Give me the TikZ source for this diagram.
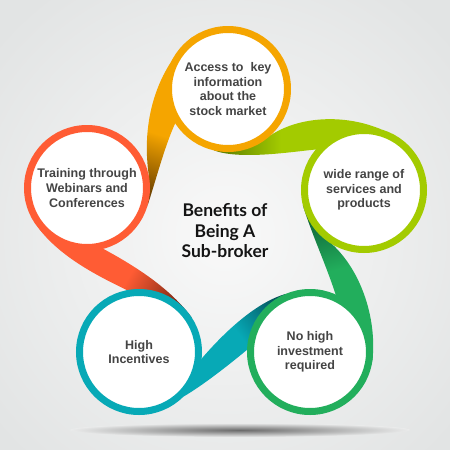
\documentclass[tikz,border=0pt]{standalone}
\usepackage{fontspec}
\setmainfont{Liberation Sans}
\newfontfamily\latofont{Lato}

\definecolor{accorange}{HTML}{F5A500}
\definecolor{accdark}{HTML}{4A2800}
\definecolor{widlime}{HTML}{A3CB00}
\definecolor{widdark}{HTML}{3D5A00}
\definecolor{nhigreen}{HTML}{22AE5C}
\definecolor{nhidark}{HTML}{0A4D2C}
\definecolor{higteal}{HTML}{07A9B6}
\definecolor{higdark}{HTML}{044C55}
\definecolor{trnred}{HTML}{FF5C34}
\definecolor{trndark}{HTML}{5C1C0C}
\definecolor{txtgray}{HTML}{444444}
\definecolor{bgin}{HTML}{F9F9F9}
\definecolor{bgout}{HTML}{E2E4E4}
\definecolor{shadowbg}{HTML}{EAEBEB}
\colorlet{ribbase}{black}
\colorlet{ribdark}{black}

\pgfdeclarelayer{under}
\pgfsetlayers{under,main}
\pgfdeclarehorizontalshading[ribbase,ribdark]{ribbonfade}{100bp}{color(0bp)=(ribdark); color(18bp)=(ribdark); color(45bp)=(ribbase); color(100bp)=(ribbase)}

\begin{document}
\begin{tikzpicture}
      [x=1pt,y=-1pt,
       benefit/.style={circle,draw=#1,line width=7pt,fill=white,minimum size=119pt,inner sep=0pt,align=center,text=txtgray,font=\bfseries\fontsize{12.5}{14.7}\selectfont},
       ribbon/.style n args={3}{/utils/exec={\colorlet{ribbase}{#1}\colorlet{ribdark}{#2}},shading=ribbonfade,shading angle=#3}]
        \path[use as bounding box] (0,0) rectangle (450,450);

        \node[benefit=accorange] (acc) at (228,89) {Access to\ \ key\\information\\about the\\stock market};
        \node[benefit=widlime] (wid) at (364,190) {wide range of\\services and\\products};
        \node[benefit=nhigreen] (nhi) at (310,352) {No high\\investment\\required};
        \node[benefit=higteal] (hig) at (139,352) {High\\Incentives};
        \node[benefit=trnred] (trn) at (87,188) {Training through\\Webinars and\\Conferences};
        \node[align=center,text=black!92,font=\latofont\bfseries\fontsize{17.5}{20.5}\selectfont] (ctr) at (225,231) {Benefits of\\Being A\\Sub-broker};

        \begin{pgfonlayer}{under}
          \shade[inner color=bgin,outer color=bgout] (-75,-65) rectangle (525,535);
          \shade[inner color=black!58,outer color=shadowbg] (240,430) ellipse (170 and 7);

          % ribbons, each one tucked under the next circle
          \shade[ribbon={accorange}{accdark}{72}] (acc.125) .. controls (158,68) and (140,120) .. (trn.9)
            -- (trn.-17) .. controls (156,180) and (164,148) .. (acc.213) -- cycle;
          \shade[ribbon={widlime}{widdark}{0}] (acc.-103) .. controls (240,160) and (290,152) .. (wid.140)
            -- (wid.74) .. controls (345,114) and (300,116) .. (acc.-47) -- cycle;
          \shade[ribbon={nhigreen}{nhidark}{-75}] (wid.194) .. controls (312,235) and (325,262) .. (nhi.66)
            -- (nhi.-8) .. controls (377,320) and (362,272) .. (wid.240) -- cycle;
          \shade[ribbon={higteal}{higdark}{217}] (nhi.113) .. controls (258,302) and (228,328) .. (hig.-6)
            -- (hig.-45) .. controls (202,386) and (230,364) .. (nhi.178) -- cycle;
          \shade[ribbon={trnred}{trndark}{150}] (trn.221) .. controls (62,258) and (98,276) .. (hig.101)
            -- (hig.33) .. controls (170,288) and (135,266) .. (trn.-75) -- cycle;
        \end{pgfonlayer}

      \end{tikzpicture}
\end{document}
